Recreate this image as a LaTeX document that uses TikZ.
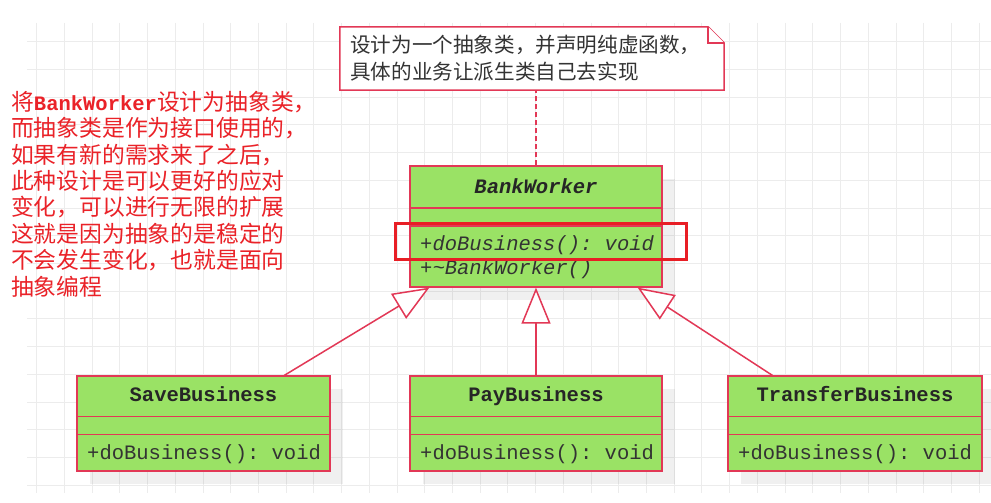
\documentclass[tikz,border=0pt]{standalone}
\usepackage{fontspec}
\setmonofont{Liberation Mono}
\newfontfamily\cjk{Noto Sans CJK SC}
\usetikzlibrary{arrows.meta,calc,shadows}
\definecolor{umlgreen}{RGB}{154,226,101}
\definecolor{umlred}{RGB}{226,56,86}
\definecolor{hlred}{RGB}{232,30,37}
\definecolor{txtred}{RGB}{234,34,40}
\definecolor{gridc}{RGB}{236,236,236}
\definecolor{notetxt}{RGB}{51,51,51}
\begin{document}
\begin{tikzpicture}[x=1pt,y=-1pt,
  gridline/.style={draw=gridc,line width=1pt},
  classbox/.style={draw=umlred,fill=umlgreen,line width=1.3pt,inner sep=0pt,
    drop shadow={shadow xshift=13pt,shadow yshift=-13pt,fill=black,opacity=0.06}},
  sepline/.style={draw=umlred,line width=1.3pt},
  ctitle/.style={font=\fontsize{20.5}{24}\selectfont\ttfamily\bfseries,anchor=base,inner sep=0pt,text=black!85},
  member/.style={font=\fontsize{20.5}{24}\selectfont\ttfamily,anchor=base west,inner sep=0pt,text=black!80},
  inherit/.style={draw=umlred,line width=1.5pt,-{Triangle[length=36pt,width=29pt,fill=white]}},
  dashline/.style={draw=umlred,line width=1.5pt,dash pattern=on 5pt off 3pt},
  notebox/.style={draw=umlred,fill=white,line width=1.5pt},
  notetext/.style={font=\fontsize{20.6}{24}\selectfont\cjk,text=notetxt,anchor=base west,inner sep=0pt},
  redtext/.style={font=\fontsize{22.8}{26}\selectfont\cjk,text=txtred,anchor=base west,inner sep=0pt},
  hlbox/.style={draw=hlred,line width=3pt,inner sep=0pt}
]
\path[use as bounding box,fill=white] (0,0) rectangle (991,503);
% grid
\foreach \i in {0,...,34}{\draw[gridline] ({36.7+27.72*\i},23) -- ({36.7+27.72*\i},493);}
\foreach \j in {0,...,16}{\draw[gridline] (27,{41.7+27.72*\j}) -- (991,{41.7+27.72*\j});}

% note
\node[draw=none,minimum width=384pt,minimum height=63pt,inner sep=0pt] (note) at (532,58.5) {};
\draw[notebox] (note.north west) -- ($(note.north east)+(-16,0)$) -- ($(note.north east)+(0,16)$) -- (note.south east) -- (note.south west) -- cycle;
\draw[notebox] ($(note.north east)+(-16,0)$) -- ($(note.north east)+(-16,16)$) -- ($(note.north east)+(0,16)$);
\node[notetext] (n1) at (350,52.8) {设计为一个抽象类，并声明纯虚函数，};
\node[notetext] (n2) at (350,79.5) {具体的业务让派生类自己去实现};

% left text
\node[redtext] (l1) at (11,110.2) {将{\ttfamily\bfseries\fontsize{20.5}{24}\selectfont BankWorker}设计为抽象类，};
\node[redtext] (l2) at (11,136.6) {而抽象类是作为接口使用的，};
\node[redtext] (l3) at (11,163.0) {如果有新的需求来了之后，};
\node[redtext] (l4) at (11,189.4) {此种设计是可以更好的应对};
\node[redtext] (l5) at (11,215.8) {变化，可以进行无限的扩展};
\node[redtext] (l6) at (11,242.2) {这就是因为抽象的是稳定的};
\node[redtext] (l7) at (11,268.6) {不会发生变化，也就是面向};
\node[redtext] (l8) at (11,295.0) {抽象编程};

% BankWorker
\node[classbox,minimum width=252pt,minimum height=121pt] (bw) at (536,226.5) {};
\draw[sepline] ($(bw.north west)+(0,42.5)$) -- ($(bw.north east)+(0,42.5)$);
\draw[sepline] ($(bw.north west)+(0,60.5)$) -- ($(bw.north east)+(0,60.5)$);
\node[ctitle] (bwt) at (536,193.5) {\itshape BankWorker};
\node[member] (bwm1) at (420,250.5) {\itshape +doBusiness(): void};
\node[member] (bwm2) at (420,274.3) {\itshape +\textasciitilde BankWorker()};

% subclasses
\node[classbox,minimum width=253pt,minimum height=95pt] (save) at (203.5,423.5) {};
\node[classbox,minimum width=252pt,minimum height=95pt] (pay) at (536,423.5) {};
\node[classbox,minimum width=254pt,minimum height=95pt] (tr) at (855,423.5) {};
\foreach \n in {save,pay,tr}{
  \draw[sepline] ($(\n.north west)+(0,41)$) -- ($(\n.north east)+(0,41)$);
  \draw[sepline] ($(\n.north west)+(0,59)$) -- ($(\n.north east)+(0,59)$);
}
\node[ctitle] (savet) at (203.5,401.7) {SaveBusiness};
\node[ctitle] (payt) at (536,401.7) {PayBusiness};
\node[ctitle] (trt) at (855,401.7) {TransferBusiness};
\node[member] (savem) at (87,459.3) {+doBusiness(): void};
\node[member] (paym) at (420,459.3) {+doBusiness(): void};
\node[member] (trm) at (738,459.3) {+doBusiness(): void};

% connectors
\draw[dashline] (bw.north) -- (bw.north |- note.south);
\draw[inherit] ([xshift=208pt]save.north west) -- ([xshift=20pt]bw.south west);
\draw[inherit] (pay.north) -- (bw.south);
\draw[inherit] ([xshift=45pt]tr.north west) -- ([xshift=-25pt]bw.south east);

% highlight
\node[hlbox,minimum width=291pt,minimum height=36pt] (hl) at (540.5,241) {};
\end{tikzpicture}
\end{document}
